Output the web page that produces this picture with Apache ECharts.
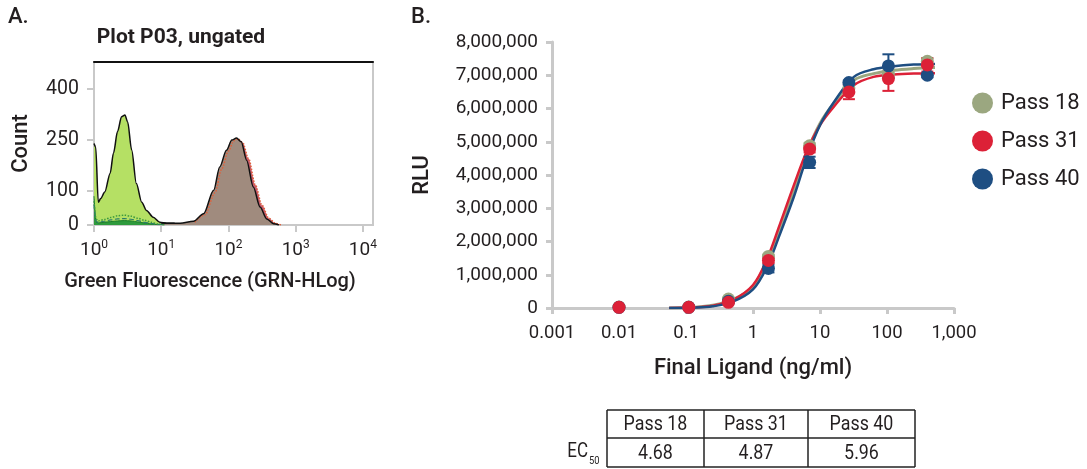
<!DOCTYPE html>
<html>
<head>
<meta charset="utf-8">
<script src="https://cdn.jsdelivr.net/npm/echarts@6/dist/echarts.min.js"></script>
<style>
  html, body { margin: 0; padding: 0; background: #fff; }
  #main { width: 1087px; height: 469px; }
</style>
</head>
<body>
<div id="main"></div>
<script>
// ---- panel A: flow histogram (x = log10 fluorescence, y = count)
var greenX = [0, 0.025, 0.064, 0.1, 0.16, 0.24, 0.29, 0.35, 0.41, 0.46, 0.5, 0.56, 0.63, 0.71, 0.78, 0.88, 0.98, 1.08, 1.2];
var greenCount = [240, 230, 67, 78, 97, 152, 212, 275, 319, 324, 304, 221, 122, 67, 43, 23, 8, 5, 5];

var smallX = [0, 0.03, 0.06, 0.15, 0.25, 0.35, 0.45, 0.55, 0.65, 0.75, 0.85, 0.95, 1.05];
var dottedCount = [70, 18, 12, 16, 22, 27, 29, 26, 20, 14, 8, 3, 1];
var dashedCount = [60, 12, 8, 11, 15, 18, 19, 17, 13, 8, 5, 2, 1];
var darkCount = [85, 10, 6, 8, 10, 12, 13, 12, 9, 6, 3, 1, 0];

var brownX = [1.0, 1.28, 1.48, 1.63, 1.78, 1.87, 1.97, 2.05, 2.12, 2.19, 2.27, 2.37, 2.47, 2.57, 2.67, 2.75];
var brownCount = [6, 5, 11, 33, 102, 171, 220, 250, 256, 245, 191, 112, 53, 18, 4, 0];
var redX = [1.5, 1.65, 1.8, 1.9, 2.0, 2.08, 2.14, 2.21, 2.3, 2.4, 2.5, 2.6, 2.7, 2.78];
var redCount = [8, 30, 95, 165, 218, 248, 254, 243, 195, 118, 58, 20, 5, 0];

var histTicksX = [0, 1, 2, 3, 4];
var histTicksY = [0, 100, 250, 400];

// ---- panel B: dose response
var seriesNames = ['Pass 18', 'Pass 31', 'Pass 40'];
var doseX = [0.01, 0.11, 0.43, 1.7, 7.0, 27, 105, 400];
var pass18 = [30000, 30000, 270000, 1550000, 4880000, 6620000, 7050000, 7420000];
var pass31 = [20000, 20000, 170000, 1430000, 4780000, 6500000, 6900000, 7310000];
var pass40 = [20000, 20000, 200000, 1190000, 4380000, 6780000, 7280000, 7000000];
var err18 = [0, 0, 30000, 50000, 80000, 80000, 100000, 100000];
var err31 = [0, 0, 30000, 80000, 100000, 220000, 370000, 200000];
var err40 = [0, 0, 30000, 120000, 170000, 60000, 350000, 60000];

var fitX = [0.056, 0.126, 0.25, 0.5, 1, 1.6, 2.5, 4, 6.3, 10, 16, 32, 63, 126, 250, 520];
var fit18 = [0, 20000, 80000, 250000, 650000, 1400000, 2350000, 3450000, 4650000, 5550000, 6150000, 6850000, 7050000, 7150000, 7200000, 7230000];
var fit31 = [0, 20000, 70000, 240000, 690000, 1450000, 2500000, 3650000, 4700000, 5500000, 6050000, 6700000, 6950000, 7020000, 7050000, 7060000];
var fit40 = [0, 10000, 50000, 190000, 560000, 1220000, 2200000, 3300000, 4500000, 5500000, 6180000, 6950000, 7180000, 7270000, 7320000, 7340000];

var doseTicks = [0.001, 0.01, 0.1, 1, 10, 100, 1000];
var ec50 = ['4.68', '4.87', '5.96'];

var colors = ['#9ba780', '#dc2137', '#1e4e82'];
var FONT = 'Roboto, "Noto Sans", sans-serif';
var TXT = '#231f20';
var AXIS = '#c9c9c9';

function pairs(xs, ys) {
  return xs.map(function (x, i) { return [x, ys[i]]; });
}

function errBars(color) {
  return function (params, api) {
    var x = api.value(0), y = api.value(1), e = api.value(2);
    if (!e) return;
    var hi = api.coord([x, y + e]);
    var lo = api.coord([x, y - e]);
    var st = { stroke: color, lineWidth: 2 };
    return {
      type: 'group',
      children: [
        { type: 'line', shape: { x1: hi[0], y1: hi[1], x2: lo[0], y2: lo[1] }, style: st },
        { type: 'line', shape: { x1: hi[0] - 6, y1: hi[1], x2: hi[0] + 6, y2: hi[1] }, style: st },
        { type: 'line', shape: { x1: lo[0] - 6, y1: lo[1], x2: lo[0] + 6, y2: lo[1] }, style: st }
      ]
    };
  };
}

var chart = echarts.init(document.getElementById('main'));

var histLine = function (xs, ys, lineColor, type, width, fill) {
  var s = {
    type: 'line', xAxisIndex: 0, yAxisIndex: 0,
    data: pairs(xs, ys), smooth: 0.3, smoothMonotone: 'x',
    showSymbol: false, silent: true,
    lineStyle: { color: lineColor, width: width, type: type }
  };
  if (fill) s.areaStyle = { color: fill, opacity: 1 };
  return s;
};

var series = [
  histLine(greenX, greenCount, '#111', 'solid', 1.5, '#b5e064'),
  histLine(smallX, darkCount, '#1c7d2c', 'solid', 1, '#2e9a3c'),
  histLine(smallX, dashedCount, '#2a7b6b', 'dashed', 1.2),
  histLine(smallX, dottedCount, '#3d9a3d', 'dotted', 1.5),
  histLine(redX, redCount, '#e0603a', 'dotted', 1.5, '#c65a6c'),
  histLine(brownX, brownCount, '#111', 'solid', 1.5, '#a08b7e')
];

// fitted curves
[fit18, fit31, fit40].forEach(function (arr, i) {
  series.push({
    type: 'line', name: seriesNames[i] + ' fit', xAxisIndex: 2, yAxisIndex: 1,
    data: pairs(fitX, arr), smooth: 0.35, showSymbol: false, silent: true,
    z: 3,
    lineStyle: { color: colors[i], width: i === 0 ? 3 : 2.5 }
  });
});

// error bars + points
var means = [pass18, pass31, pass40];
var errs = [err18, err31, err40];
[0, 2, 1].forEach(function (i) {
  series.push({
    type: 'custom', xAxisIndex: 2, yAxisIndex: 1, z: 4,
    renderItem: errBars(colors[i]), silent: true,
    encode: { x: 0, y: 1 },
    data: doseX.map(function (x, k) { return [x, means[i][k], errs[i][k]]; })
  });
  series.push({
    type: 'scatter', name: seriesNames[i], xAxisIndex: 2, yAxisIndex: 1, z: 5,
    symbolSize: 13, itemStyle: { color: colors[i], opacity: 1 },
    data: pairs(doseX, means[i])
  });
});

var colEdges = [607, 704, 808, 915], rowEdges = [410, 438, 467];
var graphics = [
  { type: 'text', left: 8, top: 6, style: { text: 'A.', font: '500 22px ' + FONT, fill: TXT } },
  { type: 'text', left: 411, top: 6, style: { text: 'B.', font: '500 22px ' + FONT, fill: TXT } },
  { type: 'text', x: 181, y: 38, style: { text: 'Plot P03, ungated', font: 'bold 21px ' + FONT, fill: TXT, align: 'center', verticalAlign: 'middle' } },
  { type: 'text', x: 588, y: 452, scaleX: 0.85, style: { text: 'EC', font: '20px ' + FONT, fill: TXT, align: 'right', verticalAlign: 'middle' } },
  { type: 'text', x: 589, y: 461, scaleX: 0.85, style: { text: '50', font: '11px ' + FONT, fill: TXT, align: 'left', verticalAlign: 'middle' } }
];
// table grid lines
rowEdges.forEach(function (y) {
  graphics.push({ type: 'line', shape: { x1: colEdges[0], y1: y, x2: colEdges[3], y2: y }, style: { stroke: '#222', lineWidth: 1.5 } });
});
colEdges.forEach(function (x) {
  graphics.push({ type: 'line', shape: { x1: x, y1: rowEdges[0], x2: x, y2: rowEdges[2] }, style: { stroke: '#222', lineWidth: 1.5 } });
});
seriesNames.forEach(function (name, c) {
  var cx = (colEdges[c] + colEdges[c + 1]) / 2;
  graphics.push({ type: 'text', x: cx, y: (rowEdges[0] + rowEdges[1]) / 2 + 1, scaleX: 0.85,
    style: { text: name, font: '21px ' + FONT, fill: TXT, align: 'center', verticalAlign: 'middle' } });
  graphics.push({ type: 'text', x: cx, y: (rowEdges[1] + rowEdges[2]) / 2 + 1, scaleX: 0.85,
    style: { text: ec50[c], font: '21px ' + FONT, fill: TXT, align: 'center', verticalAlign: 'middle' } });
});

chart.setOption({
  animation: false,
  textStyle: { fontFamily: FONT },
  grid: [
    { left: 94, top: 62, width: 279, height: 163, show: true, borderColor: AXIS, borderWidth: 2, outerBoundsMode: 'none' },
    { left: 552, top: 42, width: 402, height: 266, outerBoundsMode: 'none' }
  ],
  legend: {
    data: seriesNames, orient: 'vertical', left: 967, top: 87, itemGap: 16,
    itemWidth: 21, itemHeight: 21, icon: 'circle', selectedMode: false,
    textStyle: { fontSize: 22, color: TXT, fontFamily: FONT, padding: [0, 0, 0, 3] }
  },
  xAxis: [
    {
      gridIndex: 0, type: 'value', min: 0, max: 4.15,
      name: 'Green Fluorescence (GRN-HLog)', nameLocation: 'middle', nameGap: 47,
      nameTextStyle: { fontSize: 20, fontWeight: 500, color: TXT, padding: [0, 47, 0, 0] },
      axisLine: { lineStyle: { color: AXIS, width: 2 } },
      axisTick: { customValues: histTicksX, length: 7, lineStyle: { color: AXIS, width: 2 } },
      axisLabel: { customValues: histTicksX, margin: 14, color: TXT,
        formatter: function (v) { return '{b|10}{s|' + Math.round(v) + '}'; },
        rich: {
          b: { fontSize: 19, lineHeight: 22, color: TXT, fontFamily: FONT },
          s: { fontSize: 12, lineHeight: 12, verticalAlign: 'top', color: TXT, fontFamily: FONT }
        } },
      splitLine: { show: false }
    },
    {
      gridIndex: 0, type: 'value', min: 0, max: 4.15, position: 'top',
      axisLine: { lineStyle: { color: '#111', width: 2 } },
      axisTick: { show: false }, axisLabel: { show: false }, splitLine: { show: false }
    },
    {
      gridIndex: 1, type: 'log', logBase: 10, min: 0.001, max: 1000,
      name: 'Final Ligand (ng/ml)', nameLocation: 'middle', nameGap: 49,
      nameTextStyle: { fontSize: 22, fontWeight: 500, color: TXT },
      axisLine: { lineStyle: { color: AXIS, width: 3 } },
      axisTick: { customValues: doseTicks, length: 6, lineStyle: { color: AXIS, width: 3 } },
      axisLabel: { customValues: doseTicks, margin: 16, fontSize: 18.5, color: TXT,
        formatter: function (v) {
          var n = +(+v).toPrecision(6);
          return n >= 1000 ? n.toLocaleString('en-US') : String(n);
        } },
      splitLine: { show: false }
    }
  ],
  yAxis: [
    {
      gridIndex: 0, type: 'value', min: 0, max: 480,
      name: 'Count', nameLocation: 'middle', nameGap: 62,
      nameTextStyle: { fontSize: 22, fontWeight: 500, color: TXT },
      axisLine: { show: true, lineStyle: { color: AXIS, width: 2 } },
      axisTick: { show: true, customValues: histTicksY, length: 7, lineStyle: { color: AXIS, width: 2 } },
      axisLabel: { customValues: histTicksY, margin: 15, fontSize: 19.5, color: TXT },
      splitLine: { show: false }
    },
    {
      gridIndex: 1, type: 'value', min: 0, max: 8000000, interval: 1000000,
      name: 'RLU', nameLocation: 'middle', nameGap: 119,
      nameTextStyle: { fontSize: 22, fontWeight: 500, color: TXT },
      axisLine: { show: true, lineStyle: { color: AXIS, width: 3 } },
      axisTick: { show: true, length: 6, lineStyle: { color: AXIS, width: 3 } },
      axisLabel: { margin: 14, fontSize: 19, color: TXT,
        formatter: function (v) { return v.toLocaleString('en-US'); } },
      splitLine: { show: false }
    }
  ],
  graphic: graphics,
  series: series
});
</script>
</body>
</html>
